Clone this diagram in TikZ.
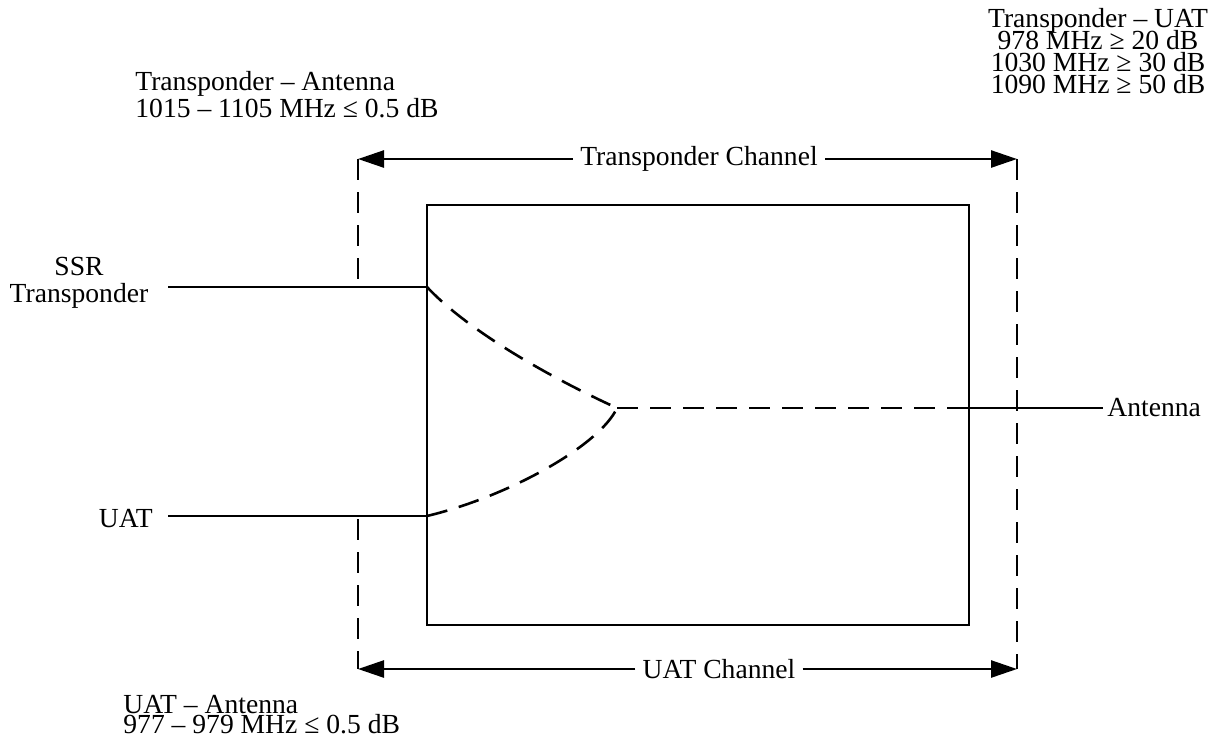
\documentclass[tikz,border=0pt]{standalone}
\usepackage{fontspec}
\setmainfont{Liberation Serif}
\usetikzlibrary{arrows.meta, positioning}

\begin{document}
\begin{tikzpicture}[
    x=0.5pt, y=-0.5pt,
    txt/.style={font=\fontsize{13.8}{14}\selectfont, inner sep=0pt},
    wire/.style={line width=1.3pt},
    dashwire/.style={line width=1.3pt, dash pattern=on 10.5pt off 6pt},
    tip/.style={wire, -{Triangle[length=13pt, width=8.5pt]}},
    gap/.style={txt, inner xsep=3.5pt}
]
\useasboundingbox (0,0) rectangle (1209,736);

% coupler box
\coordinate (boxtl) at (427,205);
\coordinate (boxbr) at (969,625);
\draw[wire] (boxtl) rectangle (boxbr);

% ports and branch point
\coordinate (ssrin) at (427,287);
\coordinate (uatin) at (427,516);
\coordinate (join) at (617,408);
\coordinate (antedge) at (969,408);
\coordinate (ssrfree) at (168,287);
\coordinate (uatfree) at (168,516);

% channel limits
\coordinate (ltop) at (358,159);
\coordinate (lup) at (358,283);
\coordinate (llow) at (358,519);
\coordinate (lbot) at (358,669);
\coordinate (rtop) at (1017,159);
\coordinate (rbot) at (1017,669);

% isolation / loss notes
\node[txt, anchor=base west] (tahead) at (135,90) {Transponder -- Antenna};
\node[txt, anchor=base west] (taval) at ([yshift=-13.6pt]tahead.base west) {1015 -- 1105 MHz ≤ 0.5 dB};

\node[txt, anchor=base] (tuhead) at (1098,27) {Transponder -- UAT};
\node[txt, anchor=base] (tuval1) at ([yshift=-11pt]tuhead.base) {978 MHz ≥ 20 dB};
\node[txt, anchor=base] (tuval2) at ([yshift=-11pt]tuval1.base) {1030 MHz ≥ 30 dB};
\node[txt, anchor=base] (tuval3) at ([yshift=-11pt]tuval2.base) {1090 MHz ≥ 50 dB};

\node[txt, anchor=base west] (uahead) at (123,713) {UAT -- Antenna};
\node[txt, anchor=base west] (uaval) at ([yshift=-10.3pt]uahead.base west) {977 -- 979 MHz ≤ 0.5 dB};

% port labels
\node[txt, anchor=base] (ssr) at (79,275) {SSR};
\node[txt, anchor=base] (ssrtx) at ([yshift=-13.5pt]ssr.base) {Transponder};
\node[txt, anchor=base east] (uat) at (153,527) {UAT};
\node[txt, anchor=base west, inner xsep=2pt] (ant) at (1103,416) {Antenna};

% channel spans
\node[gap] (txch) at (699,159) {Transponder Channel};
\node[gap] (uatch) at (719,669) {UAT Channel};
\draw[tip] (txch.west) -- (ltop);
\draw[tip] (txch.east) -- (rtop);
\draw[tip] (uatch.west) -- (lbot);
\draw[tip] (uatch.east) -- (rbot);

\draw[dashwire] (ltop) -- (lup);
\draw[dashwire] (llow) -- (lbot);
\draw[dashwire] (rtop) -- (rbot);

% signal paths
\draw[wire] (ssrfree) -- (ssrin);
\draw[wire] (uatfree) -- (uatin);
\draw[dashwire] (ssrin) .. controls (472,335) and (562,383) .. (join);
\draw[dashwire] (uatin) .. controls (510,496) and (600,445) .. (join);
\draw[dashwire] (join) -- (antedge);
\draw[wire] (antedge) -- (antedge -| ant.west);

\end{tikzpicture}
\end{document}
